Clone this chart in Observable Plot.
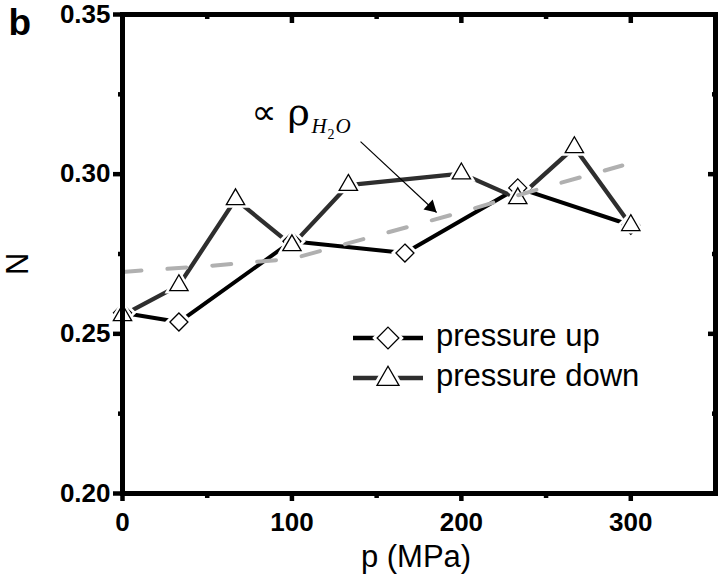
<!DOCTYPE html>
<html><head><meta charset="utf-8">
<script src="https://cdn.jsdelivr.net/npm/d3@7"></script>
<script src="https://cdn.jsdelivr.net/npm/@observablehq/plot@0.6"></script>
<style>
html,body{margin:0;padding:0;background:#fff;}
#chart{width:720px;height:582px;}
</style></head><body><div id="chart"></div>
<script>
// ---- data ----
const pressureUpP = [0, 33.3, 100, 166.7, 233.3, 300];
const pressureUpN = [0.2566, 0.2537, 0.2790, 0.2753, 0.2957, 0.2840];
const pressureDownP = [0, 33.3, 66.7, 100, 133.3, 200, 233.3, 266.7, 300];
const pressureDownN = [0.2558, 0.2652, 0.2921, 0.2777, 0.2966, 0.3002, 0.2924, 0.3084, 0.2840];
const waterP = [0, 50, 100, 150, 200, 250, 295];
const waterN = [0.2694, 0.2712, 0.2735, 0.2808, 0.2881, 0.2960, 0.3027];
const xMajorTicks = [0, 100, 200, 300];
const xMinorTicks = [50, 150, 250];
const yMajorTicks = [0.20, 0.25, 0.30, 0.35];
const yMinorTicks = [0.225, 0.275, 0.325];
const seriesNames = ["pressure up", "pressure down"];
const annotationAnchor = [{p: 76.7, N: 0.3167}];
const arrowFrom = {p: 140.5, N: 0.3102};
const arrowTo = {p: 185.4, N: 0.2880};

const up = pressureUpP.map((p, i) => ({p, N: pressureUpN[i]}));
const down = pressureDownP.map((p, i) => ({p, N: pressureDownN[i]}));
const water = waterP.map((p, i) => ({p, N: waterN[i]}));

const colUp = "#000000", colDown = "#2e2e2e";
const tickFont = {fontSize: 26, fontWeight: "bold", fill: "#000"};

const plot = Plot.plot({
  width: 720, height: 582,
  marginLeft: 122, marginRight: 5, marginTop: 14, marginBottom: 89,
  x: {domain: [0, 350]},
  y: {domain: [0.2, 0.35]},
  style: {fontFamily: "Liberation Sans, Arial, sans-serif", background: "white", color: "black", overflow: "visible"},
  marks: [
    // axes
    Plot.axisY({anchor: "left", ticks: yMajorTicks, tickSize: 9, tickPadding: 3, tickFormat: d3.format(".2f"), strokeWidth: 4.5, label: null, ...tickFont}),
    Plot.axisY({anchor: "left", ticks: yMinorTicks, tickSize: 4, tickFormat: () => "", strokeWidth: 4.5, label: null}),
    Plot.axisY({anchor: "right", ticks: yMajorTicks, tickSize: -8, tickFormat: () => "", strokeWidth: 4.5, label: null}),
    Plot.axisY({anchor: "right", ticks: yMinorTicks, tickSize: -4, tickFormat: () => "", strokeWidth: 4.5, label: null}),
    Plot.axisX({anchor: "bottom", ticks: xMajorTicks, tickSize: 8, tickPadding: 11, tickFormat: d3.format("d"), strokeWidth: 4.5, label: null, ...tickFont}),
    Plot.axisX({anchor: "bottom", ticks: xMinorTicks, tickSize: 5, tickFormat: () => "", strokeWidth: 4.5, label: null}),
    Plot.axisX({anchor: "top", ticks: xMajorTicks, tickSize: -8, tickFormat: () => "", strokeWidth: 4.5, label: null}),
    Plot.axisX({anchor: "top", ticks: xMinorTicks, tickSize: -4, tickFormat: () => "", strokeWidth: 4.5, label: null}),
    // series lines
    Plot.line(up, {x: "p", y: "N", stroke: colUp, strokeWidth: 4}),
    Plot.line(down, {x: "p", y: "N", stroke: colDown, strokeWidth: 4.3}),
    // markers (white halo creates gaps in lines)
    Plot.dot(up, {x: "p", y: "N", symbol: "diamond2", r: 8.1, fill: "white", stroke: "white", strokeWidth: 7}),
    Plot.dot(up, {x: "p", y: "N", symbol: "diamond2", r: 8.1, fill: "white", stroke: "black", strokeWidth: 1.3}),
    Plot.dot(down, {x: "p", y: "N", symbol: "triangle", r: 6.8, fill: "white", stroke: "white", strokeWidth: 6}),
    Plot.dot(down, {x: "p", y: "N", symbol: "triangle", r: 6.8, fill: "white", stroke: "black", strokeWidth: 1.3}),
    // water density guide
    Plot.line(water, {x: "p", y: "N", stroke: "#b0b0b0", strokeWidth: 4, strokeDasharray: "19 26"}),
    // annotation arrow
    Plot.link([{a: arrowFrom, b: arrowTo}], {x1: d => d.a.p, y1: d => d.a.N, x2: d => d.b.p, y2: d => d.b.N, stroke: "black", strokeWidth: 1.2}),
    Plot.dot([arrowTo], {x: "p", y: "N", symbol: "triangle", r: 5, fill: "black", stroke: "none", rotate: 133, dx: -5.7, dy: -5.3}),
    // annotation text
    Plot.text(annotationAnchor, {x: "p", y: "N", text: () => "\u221d", textAnchor: "start", lineAnchor: "bottom", fontSize: 35, fontFamily: "DejaVu Sans", dx: -1, dy: 3, fill: "black"}),
    Plot.text(annotationAnchor, {x: "p", y: "N", text: () => "\u03c1", textAnchor: "start", lineAnchor: "bottom", fontSize: 38, fontFamily: "DejaVu Serif", dx: 35, dy: 4, fill: "black"}),
    Plot.text(annotationAnchor, {x: "p", y: "N", text: () => "H", textAnchor: "start", lineAnchor: "bottom", fontSize: 21, fontStyle: "italic", fontFamily: "Liberation Serif", dx: 59, dy: 12, fill: "black"}),
    Plot.text(annotationAnchor, {x: "p", y: "N", text: () => "2", textAnchor: "start", lineAnchor: "bottom", fontSize: 14, fontFamily: "Liberation Serif", dx: 75, dy: 18, fill: "black"}),
    Plot.text(annotationAnchor, {x: "p", y: "N", text: () => "O", textAnchor: "start", lineAnchor: "bottom", fontSize: 21, fontStyle: "italic", fontFamily: "Liberation Serif", dx: 83, dy: 12, fill: "black"}),
    // axis labels & panel letter
    Plot.text(["N"], {frameAnchor: "left", dx: -104, dy: 21, rotate: -90, fontSize: 31, fill: "black"}),
    Plot.text(["p (MPa)"], {frameAnchor: "bottom", dx: -3, dy: 73, fontSize: 31, fill: "black"}),
    Plot.text(["b"], {frameAnchor: "top-left", dx: -114, dy: -6, textAnchor: "start", lineAnchor: "top", fontSize: 37, fontWeight: "bold", fill: "black"}),
    // frame
    Plot.frame({stroke: "black", strokeWidth: 5, fill: "none"})
  ]
});
document.getElementById("chart").appendChild(plot);

// ---- legend (inside plot area) ----
const svg = d3.select(plot);
const lg = svg.append("g").attr("class", "legend");
const legendItems = [
  {name: seriesNames[0], color: colUp, sym: d3.symbolDiamond2, size: 300},
  {name: seriesNames[1], color: colDown, sym: d3.symbolTriangle, size: 210}
];
legendItems.forEach((it, i) => {
  const y = 338 + i * 40;
  lg.append("line").attr("x1", 353).attr("x2", 423).attr("y1", y).attr("y2", y)
    .attr("stroke", it.color).attr("stroke-width", 4.3);
  const sy = it.sym === d3.symbolTriangle ? y + 1 : y;
  lg.append("path").attr("d", d3.symbol(it.sym, it.size)()).attr("transform", `translate(388,${sy})`)
    .attr("fill", "white").attr("stroke", "white").attr("stroke-width", 7);
  lg.append("path").attr("d", d3.symbol(it.sym, it.size)()).attr("transform", `translate(388,${sy})`)
    .attr("fill", "white").attr("stroke", "black").attr("stroke-width", 1.3);
  lg.append("text").attr("x", 436).attr("y", y + 8).attr("font-size", 31)
    .attr("text-anchor", "start")
    .attr("font-family", "Liberation Sans, Arial, sans-serif").attr("fill", "black").text(it.name);
});
</script>
</body></html>
